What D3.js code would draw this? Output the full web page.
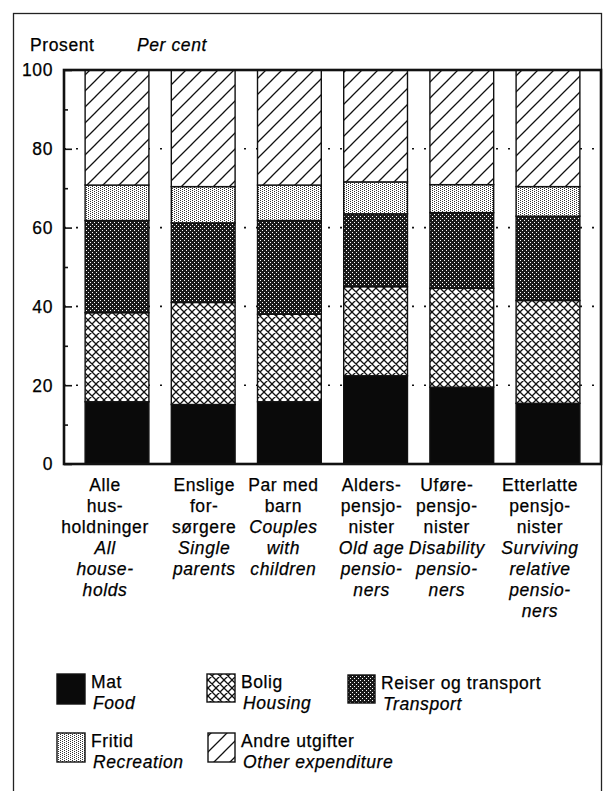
<!DOCTYPE html>
<html><head><meta charset="utf-8">
<script src="https://cdn.jsdelivr.net/npm/d3@7"></script>
<style>
body{margin:0;background:#fff}
svg{display:block}
text{font-family:"Liberation Sans",Arial,Helvetica,sans-serif;fill:#000;font-size:17.5px;letter-spacing:0.6px;stroke:#000;stroke-width:0.25px}
</style>
</head><body><svg id="c" width="603" height="791"></svg>
<script>
// ---- data ----
const categories = ["all","single","couples","oldage","disability","surviving"];
const labelsNo = [["Alle","hus-","holdninger"],["Enslige","for-","sørgere"],["Par med","barn"],["Alders-","pensjo-","nister"],["Uføre-","pensjo-","nister"],["Etterlatte","pensjo-","nister"]];
const labelsEn = [["All","house-","holds"],["Single","parents"],["Couples","with","children"],["Old age","pensio-","ners"],["Disability","pensio-","ners"],["Surviving","relative","pensio-","ners"]];
const seriesKeys = ["food","housing","transport","recreation","other"];
const food       = [15.8,15.1,15.8,22.4,19.5,15.4];
const housing    = [22.6,25.9,22.2,22.6,25.1,26.1];
const transport  = [23.4,20.2,23.8,18.5,19.2,21.4];
const recreation = [9.0, 9.2, 9.0, 8.1, 7.1, 7.5];
const other      = [29.2,29.6,29.2,28.4,29.1,29.6];
const yTicks = [0,20,40,60,80,100];
const yMinor = [10,30,50,70,90];
const legendNo = ["Mat","Bolig","Reiser og transport","Fritid","Andre utgifter"];
const legendEn = ["Food","Housing","Transport","Recreation","Other expenditure"];

const table = categories.map((c,i)=>({cat:c,food:food[i],housing:housing[i],transport:transport[i],recreation:recreation[i],other:other[i]}));

// ---- layout ----
const svg = d3.select("#c");
const L = 64, R = 601, T = 70, B = 464;
const x = d3.scaleBand().domain(categories).range([L, R]).paddingInner(0.26).paddingOuter(0.245);
const y = d3.scaleLinear().domain([0,100]).range([B, T]);
const labelDx = [-12, 1, -6, -4, -15, -8]; // label block offsets from bar centre

// patterns
const defs = svg.append("defs");
const pHouse = defs.append("pattern").attr("id","p-housing").attr("patternUnits","userSpaceOnUse").attr("width",8).attr("height",8);
pHouse.append("rect").attr("width",8).attr("height",8).attr("fill","#fff");
pHouse.append("path").attr("d","M0,0L8,8M0,8L8,0M-1,1L1,-1M7,9L9,7M-1,7L1,9M7,-1L9,1").attr("stroke","#111").attr("stroke-width",1.3);
const pTrans = defs.append("pattern").attr("id","p-transport").attr("patternUnits","userSpaceOnUse").attr("width",4).attr("height",4);
pTrans.append("rect").attr("width",4).attr("height",4).attr("fill","#1a1a1a");
pTrans.append("rect").attr("x",0).attr("y",0).attr("width",1).attr("height",1).attr("fill","#fff");
pTrans.append("rect").attr("x",2).attr("y",2).attr("width",1).attr("height",1).attr("fill","#fff");
const pRec = defs.append("pattern").attr("id","p-recreation").attr("patternUnits","userSpaceOnUse").attr("width",4).attr("height",2);
pRec.append("rect").attr("width",4).attr("height",2).attr("fill","#fff");
pRec.append("rect").attr("x",0).attr("y",0).attr("width",1).attr("height",1).attr("fill","#333");
pRec.append("rect").attr("x",2).attr("y",1).attr("width",1).attr("height",1).attr("fill","#333");
const pOther = defs.append("pattern").attr("id","p-other").attr("patternUnits","userSpaceOnUse").attr("width",16).attr("height",16);
pOther.append("rect").attr("width",16).attr("height",16).attr("fill","#fff");
pOther.append("path").attr("d","M0,16L16,0M-4,4L4,-4M12,20L20,12").attr("stroke","#111").attr("stroke-width",1.3);

const fills = {food:"#0a0a0a",housing:"url(#p-housing)",transport:"url(#p-transport)",recreation:"url(#p-recreation)",other:"url(#p-other)"};

// outer frame
svg.append("rect").attr("x",13.5).attr("y",13.5).attr("width",588).attr("height",800)
  .attr("fill","none").attr("stroke","#222").attr("stroke-width",1.3);

// title
svg.append("text").attr("x",30).attr("y",51).text("Prosent");
svg.append("text").attr("x",137).attr("y",51).attr("font-style","italic").text("Per cent");

// grid (dotted)
svg.append("g").selectAll("line").data(yTicks.filter(v=>v>0&&v<100)).join("line")
  .attr("x1",L).attr("x2",R).attr("y1",d=>y(d)).attr("y2",d=>y(d))
  .attr("stroke","#111").attr("stroke-width",1.6).attr("stroke-dasharray","2,10");

// bars
const stack = d3.stack().keys(seriesKeys)(table);
svg.append("g").selectAll("g").data(stack).join("g")
  .attr("fill",d=>fills[d.key])
  .selectAll("rect").data(d=>d).join("rect")
  .attr("x",d=>x(d.data.cat)).attr("width",x.bandwidth())
  .attr("y",d=>y(d[1])).attr("height",d=>y(d[0])-y(d[1]))
  .attr("stroke","#111").attr("stroke-width",1.4);

// plot frame
svg.append("rect").attr("x",L).attr("y",T).attr("width",R-L).attr("height",B-T)
  .attr("fill","none").attr("stroke","#111").attr("stroke-width",2.6);

// y axis
const yAxis = d3.axisRight(y).tickValues(yTicks).tickSize(8).tickFormat("");
const ga = svg.append("g").attr("transform",`translate(${L},0)`).call(yAxis);
ga.select(".domain").remove();
ga.selectAll("line").attr("stroke","#111").attr("stroke-width",1.6);
const yAxisMinor = d3.axisRight(y).tickValues(yMinor).tickSize(4).tickFormat("");
const gm = svg.append("g").attr("transform",`translate(${L},0)`).call(yAxisMinor);
gm.select(".domain").remove();
gm.selectAll("line").attr("stroke","#111").attr("stroke-width",1.6);
svg.append("g").selectAll("text").data(yTicks).join("text")
  .attr("x",53).attr("y",d=>y(d)).attr("dy","0.36em").attr("text-anchor","end").text(d=>d);

// category labels
const lab = svg.append("g");
categories.forEach((c,i)=>{
  const cx = x(c)+x.bandwidth()/2 + labelDx[i];
  const lines = labelsNo[i].map(t=>({t,it:false})).concat(labelsEn[i].map(t=>({t,it:true})));
  lab.append("g").selectAll("text").data(lines).join("text")
    .attr("x",cx).attr("y",(d,k)=>491+21*k).attr("text-anchor","middle")
    .attr("font-style",d=>d.it?"italic":"normal").text(d=>d.t);
});

// legend
const legPos = [[57,674,28,30],[207,674,28,28],[348,675,27,28],[57,733,28,29],[208,733,27,29]];
const lg = svg.append("g");
seriesKeys.forEach((k,i)=>{
  const [bx,by,bw,bh] = legPos[i];
  lg.append("rect").attr("x",bx).attr("y",by).attr("width",bw).attr("height",bh)
    .attr("fill",fills[k]).attr("stroke","#111").attr("stroke-width",1.4);
  lg.append("text").attr("x",bx+bw+6).attr("y",by+14).text(legendNo[i]);
  lg.append("text").attr("x",bx+bw+8).attr("y",by+35).attr("font-style","italic").text(legendEn[i]);
});
</script>
</body></html>
